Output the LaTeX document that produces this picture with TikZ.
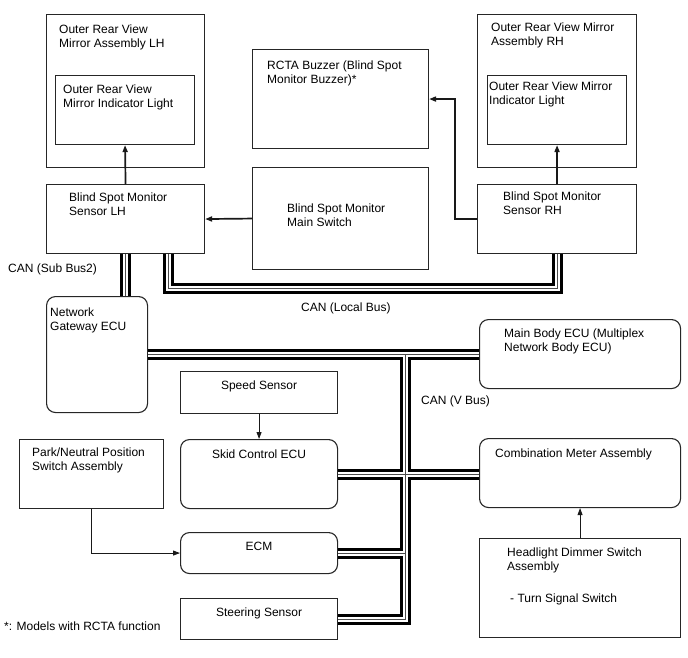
\documentclass[tikz,border=0pt]{standalone}
\usepackage{fontspec}
\setmainfont{Liberation Sans}
\usetikzlibrary{arrows.meta, positioning, calc}

\begin{document}
\begin{tikzpicture}[x=1pt, y=-1pt,
  box/.style={draw=black!85, line width=1.1pt, inner sep=0pt, anchor=north west},
  ecu/.style={box, rounded corners=9pt},
  txt/.style={font=\fontsize{12}{14.4}\selectfont, align=left, inner sep=0pt, anchor=north west, yshift=-1.5pt},
  ctxt/.style={font=\fontsize{12}{14.4}\selectfont, inner sep=0pt, yshift=-1.5pt},
  sig/.style={-{Triangle[length=7pt, width=5pt]}, line width=1.7pt, draw=black!90},
  tsig/.style={-{Triangle[length=7pt, width=5pt]}, line width=0.9pt, draw=black!90},
]
\useasboundingbox (0,0) rectangle (688,658);

% mirrors and sensors
\node[box, minimum width=158pt, minimum height=153pt] (mirL) at (46,14) {};
\node[txt, below right=9pt and 13pt of mirL.north west] {Outer Rear View\\Mirror Assembly LH};
\node[box, minimum width=139pt, minimum height=69pt] (indL) at (55,75) {};
\node[txt, below right=8pt and 8pt of indL.north west] {Outer Rear View\\Mirror Indicator Light};
\node[box, minimum width=158pt, minimum height=69pt] (bsmL) at (46,184) {};
\node[txt, below right=7pt and 23pt of bsmL.north west] {Blind Spot Monitor\\Sensor LH};

\node[box, minimum width=176pt, minimum height=99pt] (buzz) at (252,49) {};
\node[txt, below right=10pt and 15pt of buzz.north west] {RCTA Buzzer (Blind Spot\\Monitor Buzzer)*};
\node[box, minimum width=176pt, minimum height=102pt] (mainsw) at (252,167) {};
\node[txt, below right=35pt and 35pt of mainsw.north west] {Blind Spot Monitor\\Main Switch};

\node[box, minimum width=159pt, minimum height=153pt] (mirR) at (477,14) {};
\node[txt, below right=7pt and 14pt of mirR.north west] {Outer Rear View Mirror\\Assembly RH};
\node[box, minimum width=139pt, minimum height=69pt] (indR) at (487,75) {};
\node[txt, below right=5pt and 2pt of indR.north west] {Outer Rear View Mirror\\Indicator Light};
\node[box, minimum width=159pt, minimum height=69pt] (bsmR) at (477,184) {};
\node[txt, below right=6pt and 26pt of bsmR.north west] {Blind Spot Monitor\\Sensor RH};

% ECUs
\node[ecu, minimum width=101pt, minimum height=116pt] (gw) at (46,296) {};
\node[txt, below right=10pt and 4pt of gw.north west] {Network\\Gateway ECU};
\node[ecu, minimum width=201pt, minimum height=69pt] (mbody) at (479,319) {};
\node[txt, below right=8pt and 25pt of mbody.north west] {Main Body ECU (Multiplex\\Network Body ECU)};
\node[ecu, minimum width=201pt, minimum height=69pt] (comb) at (479,438) {};
\node[txt, below right=9pt and 16pt of comb.north west] {Combination Meter Assembly};
\node[box, minimum width=201pt, minimum height=99pt] (head) at (479,538) {};
\node[txt, below right=8pt and 28pt of head.north west] {Headlight Dimmer Switch\\Assembly};
\node[txt, below right=54pt and 31pt of head.north west] {- Turn Signal Switch};

\node[box, minimum width=157pt, minimum height=42pt] (speed) at (180,371) {};
\node[ctxt, below=8pt of speed.north] {Speed Sensor};
\node[ecu, minimum width=157pt, minimum height=69pt] (skid) at (180,439) {};
\node[ctxt, below=9pt of skid.north] {Skid Control ECU};
\node[box, minimum width=144pt, minimum height=69pt] (pn) at (19,439) {};
\node[txt, below right=7pt and 13pt of pn.north west] {Park/Neutral Position\\Switch Assembly};
\node[ecu, minimum width=157pt, minimum height=41pt] (ecm) at (180,532) {};
\node[ctxt, below=8pt of ecm.north] {ECM};
\node[box, minimum width=157pt, minimum height=41pt] (steer) at (180,598) {};
\node[ctxt, below=8pt of steer.north] {Steering Sensor};

% bus labels
\node[txt] (lblsub) at (8,262) {CAN (Sub Bus2)};
\node[txt] (lbllocal) at (301,301) {CAN (Local Bus)};
\node[txt] (lblv) at (421,394) {CAN (V Bus)};
\node[txt] (note) at (4,620) {*: Models with RCTA function};

% signal lines
\draw[sig] (bsmL.north) -- (indL.south);
\draw[sig] (bsmR.north) -- (indR.south);
\draw[sig] (mainsw.west) -- (bsmL.east);
\draw[sig] (bsmR.west) -- ++(-22,0) |- (buzz.east);
\draw[tsig] (speed.south) -- (skid.north);
\draw[tsig] (pn.south) |- (ecm.west);
\draw[tsig] (head.north) -- (comb.south);

% CAN bus lines
\coordinate (vj) at ([xshift=-74pt]mbody.west);
\foreach \w/\c in {11pt/black, 5pt/white, 1pt/black!70} {
  \draw[line width=\w, draw=\c]
    (bsmL.south) -- (bsmL.south |- gw.north)
    ([xshift=43pt]bsmL.south) -- ++(0,34) -| (bsmR.south)
    (gw.east |- mbody.west) -- (mbody.west)
    (vj) |- (steer.east)
    (skid.east) -- (skid.east -| comb.west)
    (ecm.east) -- (ecm.east -| vj);
}

\end{tikzpicture}
\end{document}
